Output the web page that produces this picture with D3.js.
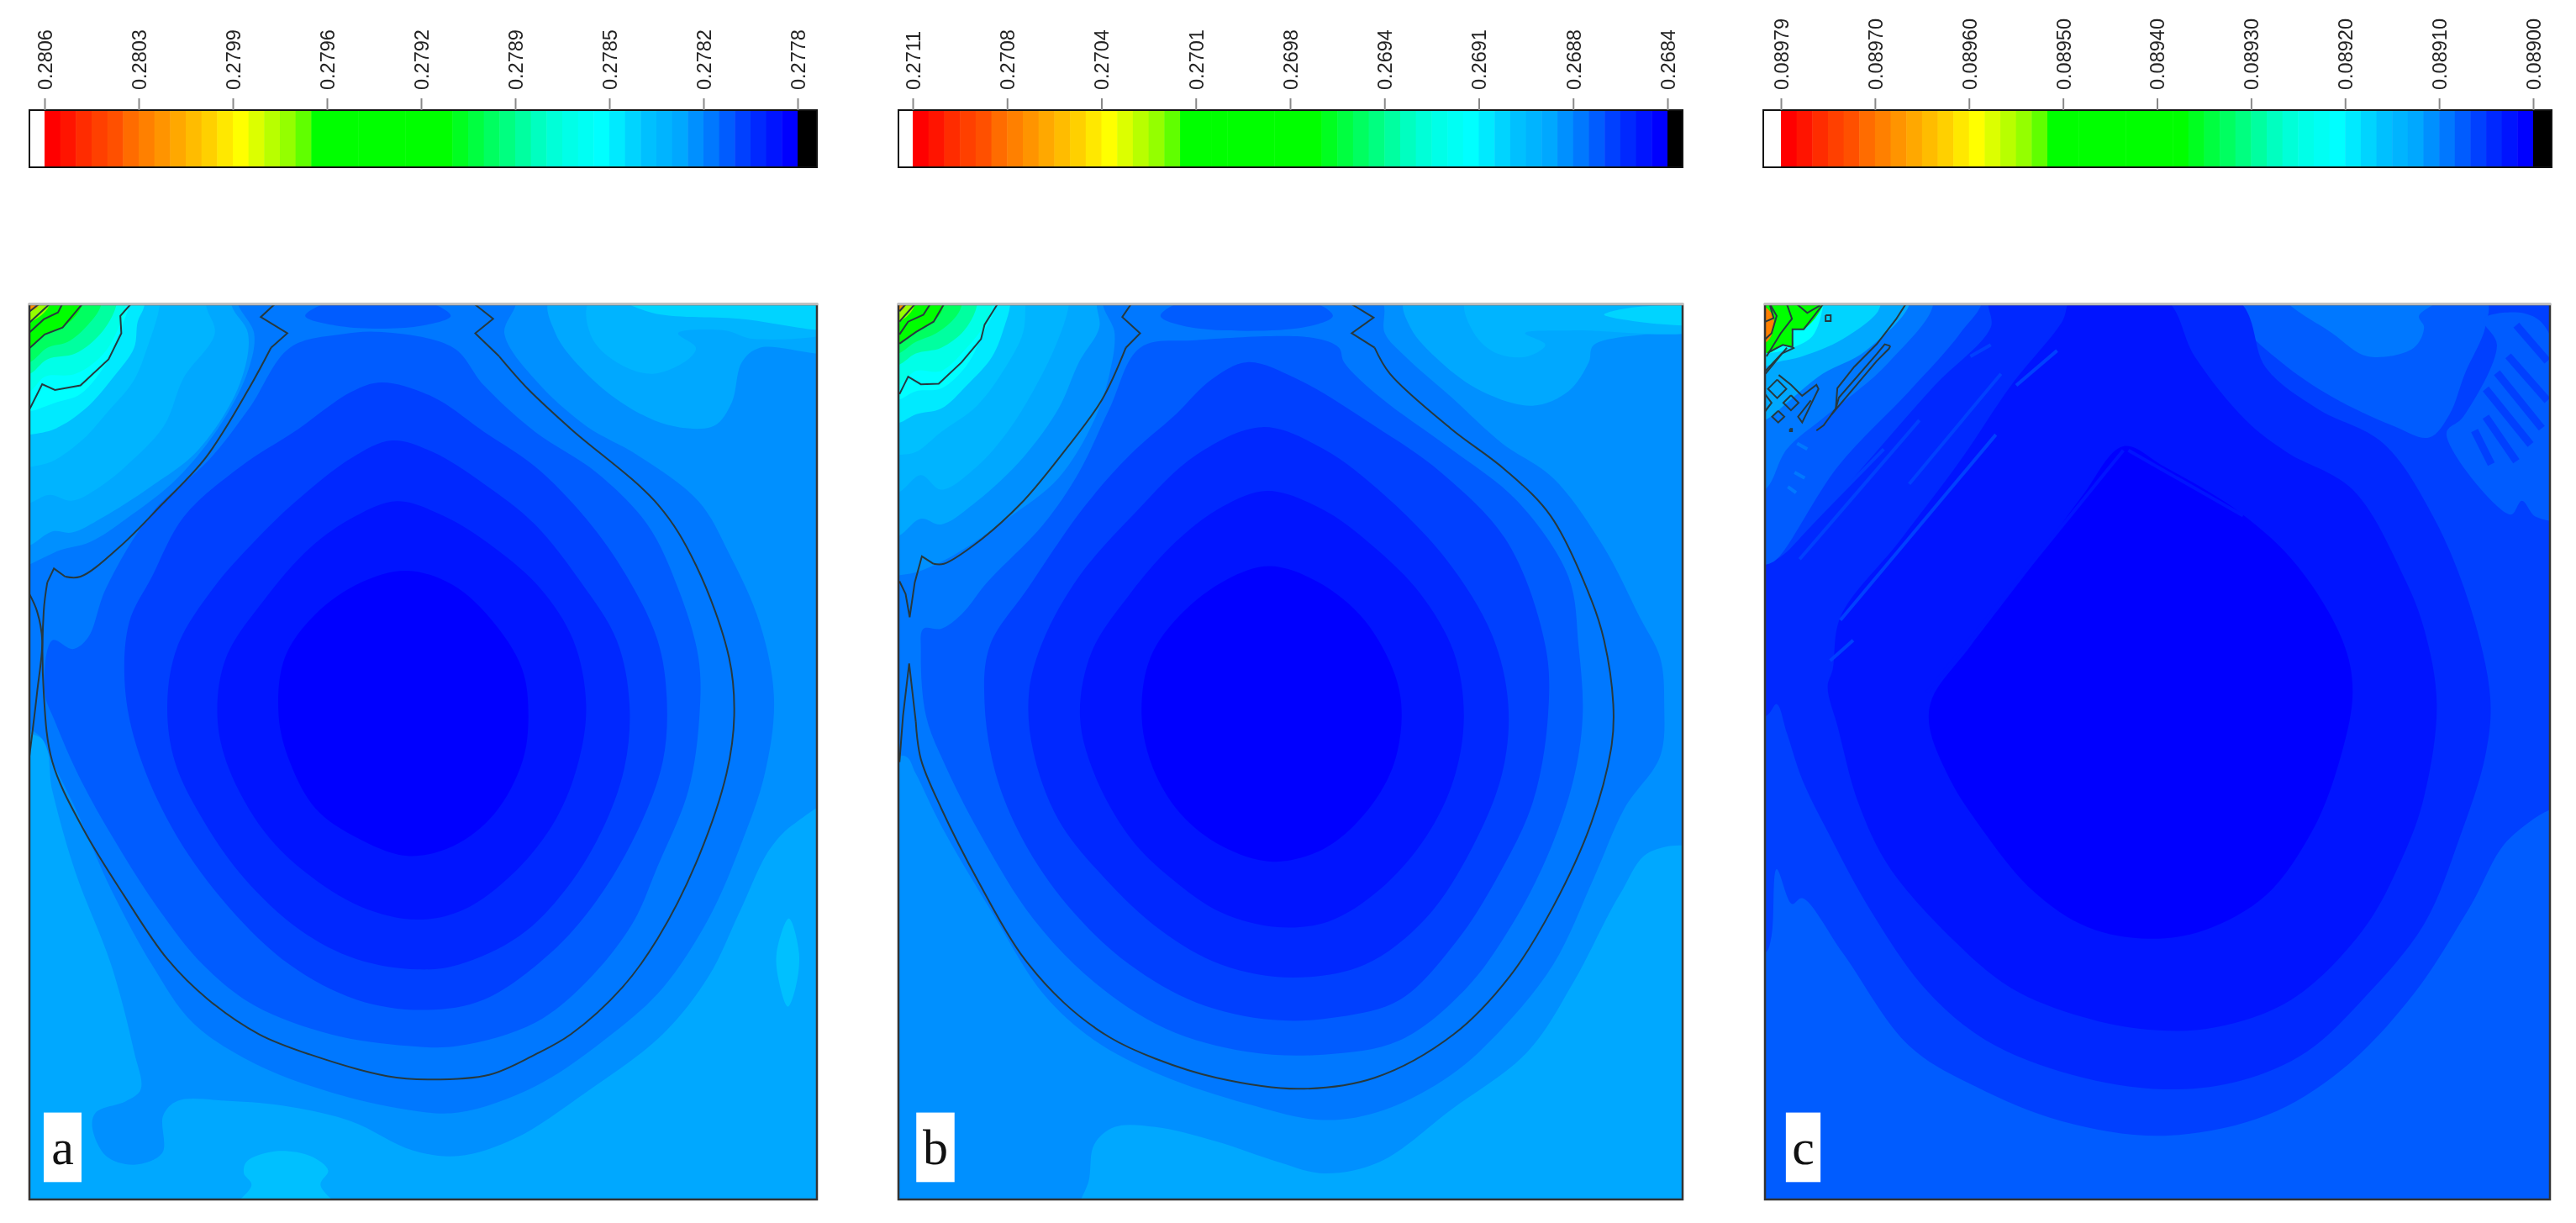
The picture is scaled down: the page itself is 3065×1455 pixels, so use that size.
<!DOCTYPE html>
<html>
<head>
<meta charset="utf-8">
<script src="https://cdn.jsdelivr.net/npm/d3@7"></script>
<style>
html,body{margin:0;padding:0;background:#fff;}
svg{display:block;filter:blur(0.6px);}
</style>
</head>
<body>
<div id="chart"></div>
<script>
// tick labels of the three colour bars
var ticksA = ["0.2806","0.2803","0.2799","0.2796","0.2792","0.2789","0.2785","0.2782","0.2778"];
var ticksB = ["0.2711","0.2708","0.2704","0.2701","0.2698","0.2694","0.2691","0.2688","0.2684"];
var ticksC = ["0.08979","0.08970","0.08960","0.08950","0.08940","0.08930","0.08920","0.08910","0.08900"];

// the 48 discrete levels of the rainbow legend, index 0 = highest value
var rampColors = ["#ff0000","#ff1400","#ff2c00","#ff4000","#ff5000","#ff6c00","#ff8000","#ff9400",
	"#ffa800","#ffbc00","#ffd000","#ffe800","#ffff00","#dcff00","#b8ff00","#94ff00",
	"#60ff00","#00ff00","#00ff00","#00ff00","#00ff00","#00ff00","#00ff00","#00ff00",
	"#00ff00","#00ff00","#00ff20","#00ff40","#00ff60","#00ff80","#00ffa0","#00ffc0",
	"#00ffd8","#00ffe8","#00fff4","#00ffff","#00eaff","#00d4ff","#00c0ff","#00b4ff",
	"#00a8ff","#0090ff","#0078ff","#005cff","#0040ff","#0028ff","#0014ff","#0000ff"];

// contour bands: [level, outline], painted in order
// outline units are the reading grid of each panel
var bandsA = [
	[40,[[35,760],[55,850],[100,990],[170,1150],[215,1300],[228,1365],[200,1385],[140,1405],[133,1430],[160,1480],[215,1495],[270,1475],[272,1410],[300,1385],[400,1385],[520,1395],[640,1420],[760,1470],[850,1480],[960,1450],[1100,1370],[1250,1270],[1340,1170],[1400,1060],[1460,950],[1510,905],[1600,870],[1600,1600],[-40,1600],[-40,760]]],
	[38,[[1497,1070],[1517,1130],[1510,1190],[1495,1222],[1478,1180],[1473,1130]]],
	[38,[[435,1490],[490,1472],[560,1480],[595,1505],[580,1530],[645,1600],[380,1600],[445,1530],[430,1510]]],
	[40,[[1030,0],[1040,60],[1090,120],[1170,180],[1260,218],[1350,220],[1385,180],[1405,110],[1440,85],[1600,90],[1600,0]]],
	[39,[[1110,0],[1110,65],[1160,110],[1230,130],[1300,105],[1315,85],[1280,60],[1370,55],[1430,70],[1600,50],[1600,0]]],
	[37,[[1170,0],[1230,25],[1400,35],[1600,50],[1600,15],[1450,0]]],
	[42,[[960,0],[940,60],[1000,140],[1100,220],[1200,270],[1320,350],[1380,440],[1440,560],[1468,690],[1450,820],[1400,950],[1340,1070],[1250,1190],[1150,1270],[1000,1360],[850,1405],[750,1400],[600,1370],[450,1320],[330,1250],[250,1150],[170,1020],[100,880],[50,790],[35,760],[-40,700],[-40,500],[55,440],[130,420],[200,380],[300,310],[390,210],[440,120],[450,60],[420,0]]],
	[40,[[-40,-40],[406,-40],[406,12],[438,60],[422,147],[340,262],[247,325],[153,378],[93,404],[55,402],[11,426],[-40,440]]],
	[39,[[-40,-40],[356,-40],[356,12],[373,60],[312,137],[274,219],[203,286],[148,325],[93,349],[49,339],[11,353],[-40,365]]],
	[38,[[-40,-40],[265,-40],[265,12],[241,84],[214,142],[164,195],[115,243],[55,281],[11,291],[-40,300]]],
	[36,[[-40,-40],[235,-40],[235,12],[222,40],[215,85],[175,135],[120,190],[60,225],[11,235],[-40,240]]],
	[35,[[-40,-40],[210,-40],[205,12],[190,50],[165,105],[110,165],[60,180],[11,195],[-40,200]]],
	[33,[[-40,-40],[200,-40],[198,12],[160,90],[100,130],[40,135],[11,160],[-40,170]]],
	[30,[[-40,-40],[180,-40],[180,12],[150,60],[100,95],[45,105],[11,130],[-40,140]]],
	[28,[[-40,-40],[150,-40],[150,12],[125,45],[85,75],[45,85],[11,110],[-40,120]]],
	[20,[[-40,-40],[113,-40],[113,12],[75,50],[40,62],[11,85],[-40,95]]],
	[15,[[-40,-40],[49,-40],[49,12],[11,41],[-40,50]]],
	[7,[[-40,-40],[28,-40],[28,12],[11,22],[-40,30]]],
	[43,[[40,680],[55,590],[95,605],[125,585],[160,500],[250,370],[360,280],[440,190],[520,85],[620,62],[700,58],[840,85],[900,150],[1000,230],[1120,300],[1220,390],[1280,500],[1320,620],[1322,720],[1300,850],[1240,980],[1190,1080],[1100,1180],[1000,1250],[850,1290],[750,1290],[600,1270],[450,1220],[350,1150],[260,1050],[180,940],[110,830],[60,730]]],
	[43,[[550,30],[620,0],[770,0],[835,30],[770,48],[620,48]]],
	[44,[[700,145],[800,170],[900,230],[1000,290],[1100,380],[1180,480],[1240,590],[1258,690],[1250,800],[1200,920],[1120,1040],[1030,1130],[900,1210],[780,1228],[650,1210],[520,1150],[400,1050],[300,930],[230,800],[198,680],[205,560],[250,480],[312,377],[422,291],[532,228],[641,161]]],
	[45,[[720,245],[800,265],[900,320],[1000,390],[1090,490],[1160,590],[1185,700],[1175,810],[1130,920],[1060,1020],[970,1100],[850,1150],[770,1158],[650,1140],[540,1090],[430,1000],[350,900],[295,800],[280,700],[300,600],[370,500],[450,420],[532,350],[641,275]]],
	[46,[[730,350],[820,375],[920,430],[1010,500],[1075,590],[1100,700],[1085,800],[1040,900],[960,990],[860,1055],[770,1072],[660,1050],[550,990],[470,920],[400,810],[378,720],[395,620],[470,520],[560,430],[650,375]]],
	[47,[[750,470],[840,495],[920,560],[975,640],[987,720],[975,800],[920,890],[840,945],[750,962],[650,930],[570,880],[520,800],[498,720],[510,620],[570,545],[660,490]]]
];
var linesA = [
	[[483,85],[440,155],[355,275],[270,355],[185,430],[110,480],[80,480]],
	[[45,490],[38,540],[38,680],[55,800],[115,915],[195,1030],[280,1140],[360,1210],[460,1270],[560,1305],[710,1342],[790,1348],[910,1340],[1000,1305],[1070,1270],[1170,1190],[1240,1105],[1315,975],[1375,820],[1390,720],[1380,620],[1315,460],[1240,355],[1070,225],[985,155],[930,100]],
	[[10,510],[25,540],[35,590],[25,680],[10,790]]
];
var kinksA = [
	[[208,10],[188,30],[190,60],[165,105],[110,150],[60,158],[35,148],[11,190]],
	[[113,10],[75,50],[40,62],[11,85]],
	[[74,10],[66,24],[38,36],[11,58]],
	[[49,10],[11,41]],
	[[28,10],[11,22]],
	[[490,10],[463,32],[515,60],[483,85]],
	[[80,480],[58,466],[45,490]],
	[[930,100],[883,60],[918,35],[882,10]]
];

var bandsB = [
	[40,[[370,1600],[390,1520],[400,1460],[440,1430],[520,1430],[640,1455],[760,1490],[850,1510],[960,1490],[1100,1400],[1250,1300],[1340,1180],[1430,1030],[1490,955],[1600,960],[1600,1600]]],
	[40,[[1010,0],[1020,50],[1080,110],[1160,160],[1260,185],[1330,160],[1370,110],[1380,80],[1600,40],[1600,0]]],
	[39,[[1130,0],[1145,60],[1190,95],[1250,100],[1285,80],[1245,60],[1340,55],[1600,50],[1600,0]]],
	[37,[[1400,28],[1600,42],[1600,20],[1460,15]]],
	[42,[[960,0],[970,60],[1010,100],[1100,170],[1200,250],[1300,310],[1400,430],[1470,550],[1510,620],[1518,700],[1510,790],[1440,880],[1380,1000],[1300,1150],[1200,1260],[1100,1340],[970,1400],[850,1418],[700,1390],[530,1340],[400,1280],[300,1200],[200,1060],[100,910],[50,820],[30,790],[-40,800],[-40,500],[60,470],[130,440],[230,380],[330,310],[400,210],[430,130],[440,60],[420,0]]],
	[40,[[-40,-40],[405,-40],[405,12],[410,50],[370,110],[330,190],[260,275],[170,350],[100,390],[60,380],[16,410],[-40,420]]],
	[39,[[-40,-40],[350,-40],[350,12],[325,80],[280,160],[230,230],[170,290],[100,330],[60,305],[16,335],[-40,345]]],
	[38,[[-40,-40],[265,-40],[265,12],[260,60],[225,120],[170,185],[100,230],[50,265],[16,270],[-40,275]]],
	[36,[[-40,-40],[235,-40],[235,12],[225,45],[200,100],[150,150],[100,190],[50,200],[16,215],[-40,220]]],
	[35,[[-40,-40],[210,-40],[208,12],[185,55],[150,115],[100,155],[50,160],[16,175],[-40,185]]],
	[33,[[-40,-40],[200,-40],[200,12],[185,45],[150,85],[100,125],[50,125],[16,150],[-40,160]]],
	[30,[[-40,-40],[170,-40],[170,12],[145,55],[100,85],[50,95],[16,115],[-40,125]]],
	[28,[[-40,-40],[140,-40],[140,12],[125,35],[90,60],[50,75],[16,95],[-40,105]]],
	[20,[[-40,-40],[105,-40],[105,12],[85,40],[50,58],[18,78],[-40,88]]],
	[15,[[-40,-40],[48,-40],[48,12],[18,40],[-40,50]]],
	[7,[[-40,-40],[30,-40],[30,12],[18,22],[-40,30]]],
	[43,[[490,85],[600,72],[830,68],[880,85],[890,110],[960,170],[1100,260],[1230,350],[1330,480],[1350,600],[1358,720],[1340,830],[1290,960],[1220,1080],[1130,1190],[1000,1280],[850,1305],[700,1300],[540,1260],[400,1180],[280,1070],[180,930],[110,810],[70,720],[60,610],[65,570],[100,570],[140,545],[190,490],[300,390],[370,300],[430,190]]],
	[43,[[530,30],[590,0],[810,0],[868,30],[810,50],[590,50]]],
	[44,[[700,110],[800,140],[950,220],[1080,300],[1210,420],[1285,600],[1290,720],[1260,870],[1190,1000],[1110,1110],[1000,1210],[880,1240],[750,1245],[600,1215],[470,1150],[360,1060],[270,950],[210,830],[185,700],[195,600],[270,500],[380,360],[470,270],[560,200],[630,140]]],
	[45,[[730,222],[850,260],[970,340],[1090,450],[1180,580],[1212,700],[1200,820],[1140,950],[1050,1070],[930,1150],[790,1172],[650,1150],[530,1090],[420,1000],[330,900],[280,780],[272,680],[300,590],[370,480],[480,370],[600,270]]],
	[46,[[740,332],[850,365],[950,430],[1040,510],[1105,610],[1125,720],[1105,830],[1050,930],[960,1020],[860,1075],[760,1085],[650,1060],[550,1000],[470,930],[400,820],[372,720],[395,610],[470,510],[560,420],[650,360]]],
	[47,[[745,462],[840,490],[930,555],[990,650],[1003,720],[985,810],[930,890],[850,950],[750,972],[650,945],[570,890],[515,810],[493,720],[510,620],[570,545],[660,485]]]
];
var linesB = [
	[[462,85],[415,175],[340,265],[255,355],[165,425],[105,458],[85,458]],
	[[50,730],[60,795],[100,880],[175,1010],[255,1130],[340,1215],[430,1275],[520,1312],[640,1345],[800,1364],[950,1345],[1105,1270],[1215,1170],[1300,1050],[1375,905],[1415,770],[1418,700],[1400,590],[1375,520],[1295,375],[1205,295],[1100,225],[980,130],[950,85]]
];
var kinksB = [
	[[210,10],[185,45],[178,70],[140,110],[95,147],[60,148],[35,135],[18,165]],
	[[105,10],[85,40],[50,58],[18,78]],
	[[78,10],[65,28],[35,40],[18,62]],
	[[48,10],[18,40]],
	[[30,10],[18,22]],
	[[472,10],[455,32],[490,60],[462,85]],
	[[85,458],[62,445],[48,490],[38,550],[30,510],[18,488]],
	[[18,800],[25,720],[37,630],[50,730]],
	[[950,85],[905,60],[948,33],[905,10]]
];

var bandsC = [
	[43,[[-40,1130],[17,1130],[30,1100],[40,985],[70,1045],[90,1035],[170,1130],[300,1290],[430,1360],[600,1420],[800,1445],[1000,1410],[1150,1330],[1290,1200],[1400,1050],[1480,930],[1600,880],[1600,1600],[-40,1600]]],
	[43,[[950,0],[960,50],[1030,110],[1130,170],[1250,220],[1320,240],[1360,200],[1390,130],[1430,50],[1430,0]]],
	[42,[[1040,0],[1130,60],[1200,100],[1290,85],[1310,50],[1300,30],[1340,0]]],
	[43,[[1426,36],[1508,26],[1552,55],[1600,377],[1530,377],[1502,349],[1480,373],[1354,233],[1387,204],[1453,80]]],
	[45,[[460,0],[460,50],[350,150],[230,270],[100,400],[40,450],[-40,470],[-40,720],[20,720],[40,700],[60,750],[90,830],[140,920],[220,1050],[330,1190],[450,1280],[620,1340],[800,1365],[950,1350],[1080,1300],[1200,1200],[1310,1080],[1380,930],[1430,790],[1440,690],[1400,530],[1330,380],[1230,250],[1100,190],[1000,120],[940,0]]],
	[46,[[620,0],[800,0],[860,100],[960,210],[1040,265],[1170,330],[1270,480],[1310,570],[1335,700],[1310,860],[1270,960],[1190,1090],[1050,1210],[900,1258],[770,1262],[640,1240],[500,1190],[390,1110],[260,980],[200,870],[160,740],[140,670],[150,640],[165,550],[280,420],[400,280],[500,150],[600,40]]],
	[47,[[720,255],[800,290],[950,370],[1060,460],[1150,590],[1170,680],[1140,810],[1090,920],[1000,1030],[880,1090],[770,1105],[650,1085],[540,1020],[430,900],[380,830],[340,740],[345,690],[420,600],[550,450],[640,340]]],
	[43,[[-40,470],[17,460],[40,450],[160,290],[300,160],[400,60],[440,0],[-40,-40]]],
	[42,[[-40,340],[17,330],[60,260],[140,200],[260,110],[345,0],[-40,-40]]],
	[40,[[-40,220],[17,210],[60,180],[130,130],[215,90],[300,0],[-40,-40]]],
	[37,[[-40,130],[40,110],[90,100],[170,70],[240,20],[240,0],[-40,-40]]],
	[35,[[-40,90],[22,94],[60,88],[110,65],[131,12],[131,0],[-40,-40]]],
	[20,[[-40,70],[22,94],[52,80],[71,84],[71,53],[93,53],[131,0],[-40,-40]]],
	[6,[[-40,80],[20,75],[35,45],[25,20],[-40,0]]]
];
var stripesC = [
	[44,[[165,555],[470,235]]],
	[44,[[145,625],[190,590]]],
	[44,[[85,450],[320,210]]],
	[44,[[100,395],[250,260]]],
	[44,[[420,100],[460,80]]],
	[44,[[510,150],[590,90]]],
	[44,[[300,320],[480,130]]],
	[46,[[335,680],[720,262]]],
	[46,[[730,262],[955,375]]],
	[42,[[80,250],[100,260]]],
	[42,[[75,300],[95,310]]],
	[42,[[62,325],[78,335]]]
];
var hatchC = [
	[44,[[1491,46],[1552,108]]],
	[44,[[1475,99],[1552,176]]],
	[44,[[1453,128],[1541,224]]],
	[44,[[1431,156],[1519,252]]],
	[44,[[1431,204],[1491,281]]],
	[44,[[1409,228],[1442,286]]]
];
var kinksC = [
	[[293,10],[274,36],[236,79],[192,118],[159,155],[156,190],[132,219],[118,228]],
	[[263,82],[252,79],[236,96],[162,171],[156,190],[148,200],[236,108],[260,87],[263,82]],
	[[44,132],[68,149],[90,168],[118,149],[122,156],[90,214],[82,204],[107,176]],
	[[41,140],[59,156],[41,172],[23,156],[41,140]],
	[[68,167],[83,180],[68,193],[53,180],[68,167]],
	[[43,194],[55,204],[43,214],[31,204],[43,194]],
	[[17,165],[30,180],[17,195]],
	[[136,29],[146,29],[146,39],[136,39],[136,29]],
	[[66,225],[70,225],[70,229],[66,229],[66,225]],
	[[131,10],[93,53],[71,53],[71,84],[52,80],[22,94]],
	[[80,10],[100,25],[125,12]],
	[[60,10],[70,35],[48,60],[20,100]],
	[[27,10],[40,30],[30,60],[18,70]],
	[[75,85],[50,95],[18,125]],
	[[60,85],[18,130]],
	[[18,40],[34,34],[27,12]]
];

var panels = [
	{name:"a", ticks:ticksA, bands:bandsA, stripes:[], hatch:[], lines:linesA, kinks:kinksA, base:41, x0:35, x1:972, barX0:35, barX1:972, tick0:53, tick1:949,
		dom:[10,1552], box:[38,112]},
	{name:"b", ticks:ticksB, bands:bandsB, stripes:[], hatch:[], lines:linesB, kinks:kinksB, base:41, x0:1069, x1:2002, barX0:1069, barX1:2002, tick0:1086, tick1:1984,
		dom:[16,1554], box:[45,120]},
	{name:"c", ticks:ticksC, bands:bandsC, stripes:stripesC, hatch:hatchC, lines:[], kinks:kinksC, base:44, x0:2100, x1:3034, barX0:2098, barX1:3036, tick0:2119, tick1:3014,
		dom:[17,1557], box:[51,119]}
];

var width = 3065, height = 1455;
var barTop = 131, barBottom = 199;
var plotTop = 362, plotBottom = 1427;

var svg = d3.select("#chart").append("svg")
	.attr("width", width)
	.attr("height", height);

var curve = d3.line().curve(d3.curveCatmullRomClosed.alpha(0.5));
var smoothLine = d3.line().curve(d3.curveCatmullRom.alpha(0.5));
var straightLine = d3.line();

panels.forEach(function (p) {
	drawColorbar(p);
	drawField(p);
});

function drawColorbar(p) {
	var g = svg.append("g");
	var band = d3.scaleBand()
		.domain(d3.range(rampColors.length))
		.range([p.tick0, p.tick1]);

	g.selectAll("rect.level")
		.data(rampColors)
		.enter().append("rect")
		.attr("class", "level")
		.attr("x", function (d, i) { return band(i); })
		.attr("y", barTop)
		.attr("width", band.bandwidth() + 0.5)
		.attr("height", barBottom - barTop)
		.attr("fill", function (d) { return d; });

	g.append("rect")
		.attr("x", p.tick1)
		.attr("y", barTop)
		.attr("width", p.barX1 - p.tick1)
		.attr("height", barBottom - barTop)
		.attr("fill", "#000");

	g.append("rect")
		.attr("x", p.barX0)
		.attr("y", barTop)
		.attr("width", p.barX1 - p.barX0)
		.attr("height", barBottom - barTop)
		.attr("fill", "none")
		.attr("stroke", "#111")
		.attr("stroke-width", 2);

	g.append("rect")
		.attr("x", p.barX0 + 1)
		.attr("y", barTop + 1)
		.attr("width", p.tick0 - p.barX0 - 1)
		.attr("height", barBottom - barTop - 2)
		.attr("fill", "#fff");

	var tickScale = d3.scalePoint()
		.domain(p.ticks)
		.range([p.tick0, p.tick1]);

	var axis = d3.axisTop(tickScale).tickSize(14).tickSizeOuter(0);

	var ag = g.append("g")
		.attr("transform", "translate(0," + barTop + ")")
		.call(axis);
	ag.select(".domain").remove();
	ag.selectAll(".tick line").attr("stroke", "#888").attr("stroke-width", 2);
	ag.selectAll(".tick text")
		.attr("transform", "rotate(-90)")
		.attr("x", 24)
		.attr("y", 0)
		.attr("dy", "0.36em")
		.attr("text-anchor", "start")
		.attr("fill", "#222")
		.style("font-family", "'Liberation Sans', Arial, sans-serif")
		.style("font-size", "23.5px");
}

function drawField(p) {
	var x = d3.scaleLinear().domain(p.dom).range([p.x0, p.x1]);
	var y = d3.scaleLinear().domain([10, 1555]).range([plotTop, plotBottom]);
	var clipId = "clip-" + p.name;
	var toPx = function (pts) {
		return pts.map(function (q) { return [x(q[0]), y(q[1])]; });
	};

	svg.append("clipPath").attr("id", clipId)
		.append("rect")
		.attr("x", p.x0)
		.attr("y", plotTop)
		.attr("width", p.x1 - p.x0)
		.attr("height", plotBottom - plotTop);

	var g = svg.append("g").attr("clip-path", "url(#" + clipId + ")");

	g.append("rect")
		.attr("x", p.x0)
		.attr("y", plotTop)
		.attr("width", p.x1 - p.x0)
		.attr("height", plotBottom - plotTop)
		.attr("fill", rampColors[p.base]);

	g.selectAll("path.band")
		.data(p.bands)
		.enter().append("path")
		.attr("class", "band")
		.attr("d", function (d) { return curve(toPx(d[1])); })
		.attr("fill", function (d) { return rampColors[d[0]]; });

	g.selectAll("path.stripe")
		.data(p.stripes)
		.enter().append("path")
		.attr("class", "stripe")
		.attr("d", function (d) { return straightLine(toPx(d[1])); })
		.attr("fill", "none")
		.attr("stroke", function (d) { return rampColors[d[0]]; })
		.attr("stroke-width", 4);

	g.selectAll("path.hatch")
		.data(p.hatch)
		.enter().append("path")
		.attr("class", "hatch")
		.attr("d", function (d) { return straightLine(toPx(d[1])); })
		.attr("fill", "none")
		.attr("stroke", function (d) { return rampColors[d[0]]; })
		.attr("stroke-width", 9);

	g.selectAll("path.iso")
		.data(p.lines)
		.enter().append("path")
		.attr("class", "iso")
		.attr("d", function (d) { return smoothLine(toPx(d)); })
		.attr("fill", "none")
		.attr("stroke", "#26393f")
		.attr("stroke-width", 2);

	g.selectAll("path.kink")
		.data(p.kinks)
		.enter().append("path")
		.attr("class", "kink")
		.attr("d", function (d) { return straightLine(toPx(d)); })
		.attr("fill", "none")
		.attr("stroke", "#26393f")
		.attr("stroke-width", 2);

	// frame: the top edge is paler than the other three in the source
	svg.append("rect")
		.attr("x", p.x0)
		.attr("y", plotTop)
		.attr("width", p.x1 - p.x0)
		.attr("height", plotBottom - plotTop)
		.attr("fill", "none")
		.attr("stroke", "#333")
		.attr("stroke-width", 2.5);
	svg.append("line")
		.attr("x1", p.x0 - 1)
		.attr("x2", p.x1 + 1)
		.attr("y1", plotTop)
		.attr("y2", plotTop)
		.attr("stroke", "#bbb")
		.attr("stroke-width", 2.5);

	// panel letter on its white box
	var bx0 = x(p.dom[0] + p.box[0] - 10);
	var bx1 = x(p.dom[0] + p.box[1] - 10);
	var by0 = y(1405), by1 = y(1525);
	svg.append("rect")
		.attr("x", bx0)
		.attr("y", by0)
		.attr("width", bx1 - bx0)
		.attr("height", by1 - by0)
		.attr("fill", "#fff");
	svg.append("text")
		.attr("x", (bx0 + bx1) / 2)
		.attr("y", by0 + 61)
		.attr("text-anchor", "middle")
		.attr("fill", "#111")
		.style("font-family", "'Liberation Serif', 'Times New Roman', serif")
		.style("font-size", "60px")
		.text(p.name);
}
</script>
</body>
</html>
